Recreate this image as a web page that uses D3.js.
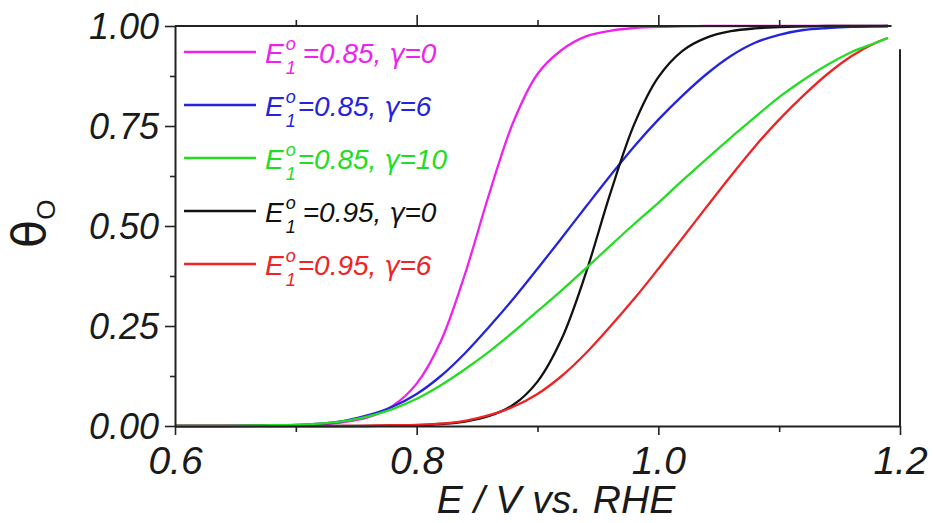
<!DOCTYPE html>
<html>
<head>
<meta charset="utf-8">
<script src="https://cdn.jsdelivr.net/npm/d3@7"></script>
<style>
  html, body { margin: 0; padding: 0; background: #fff; }
  svg { display: block; }
  text { font-family: "Liberation Sans", Arial, sans-serif; }
</style>
</head>
<body>
<svg id="chart" width="933" height="523"></svg>
<script>
// ---- data ----
const potentials = [0.60,0.62,0.64,0.66,0.68,0.70,0.72,0.74,0.76,0.78,0.80,0.82,0.84,0.86,0.88,0.90,0.92,0.94,0.96,0.98,1.00,1.02,1.04,1.06,1.08,1.10,1.12,1.14,1.16,1.18,1.19];

const thetaE085g0  = [0.000,0.000,0.000,0.000,0.001,0.002,0.004,0.010,0.022,0.050,0.106,0.212,0.380,0.580,0.760,0.880,0.940,0.974,0.988,0.995,0.998,0.999,1.000,1.000,1.000,1.000,1.000,1.000,1.000,1.000,1.000];
const thetaE085g6  = [0.000,0.000,0.000,0.001,0.002,0.003,0.006,0.013,0.027,0.048,0.080,0.125,0.182,0.248,0.318,0.393,0.470,0.548,0.625,0.699,0.766,0.826,0.880,0.925,0.958,0.978,0.990,0.995,0.998,0.999,1.000];
const thetaE085g10 = [0.000,0.000,0.000,0.001,0.002,0.003,0.006,0.012,0.024,0.042,0.068,0.102,0.142,0.186,0.235,0.287,0.339,0.394,0.450,0.505,0.558,0.614,0.668,0.721,0.772,0.822,0.865,0.903,0.935,0.958,0.970];
const thetaE095g0  = [0.000,0.000,0.000,0.000,0.000,0.000,0.000,0.000,0.000,0.001,0.002,0.005,0.011,0.025,0.053,0.111,0.218,0.382,0.579,0.754,0.872,0.938,0.971,0.987,0.994,0.997,0.999,1.000,1.000,1.000,1.000];
const thetaE095g6  = [0.000,0.000,0.000,0.000,0.000,0.000,0.000,0.000,0.001,0.002,0.003,0.006,0.013,0.027,0.048,0.080,0.125,0.182,0.248,0.318,0.393,0.470,0.548,0.625,0.699,0.766,0.826,0.880,0.925,0.958,0.970];

const seriesE0     = ["0.85", "0.85", "0.85", "0.95", "0.95"];
const seriesGamma  = ["0", "6", "10", "0", "6"];
const seriesColors = ["#ee22ee", "#2424dc", "#22dd22", "#111111", "#ee2424"];
const seriesValues = [thetaE085g0, thetaE085g6, thetaE085g10, thetaE095g0, thetaE095g6];
const drawOrder    = [0, 1, 3, 4, 2];

const xTicksMajor = [0.6, 0.8, 1.0, 1.2];
const xTicksMinor = [0.7, 0.9, 1.1];
const yTicksMajor = [0, 0.25, 0.5, 0.75, 1.0];
const yTicksMinor = [0.125, 0.375, 0.625, 0.875];

// ---- layout ----
const svg = d3.select("#chart");
const x = d3.scaleLinear().domain([0.6, 1.2]).range([175, 900]);
const y = d3.scaleLinear().domain([0, 1]).range([426, 26]);

const axisColor = "#222";
const g = svg.append("g");

// curves
const line = d3.line()
  .x((d, i) => x(potentials[i]))
  .y(d => y(d))
  .curve(d3.curveCatmullRom.alpha(0.5));

drawOrder.forEach(k => {
  g.append("path")
    .datum(seriesValues[k])
    .attr("d", line)
    .attr("fill", "none")
    .attr("stroke", seriesColors[k])
    .attr("stroke-width", 2.3)
    .attr("stroke-linejoin", "round");
});

// frame: top line (stops just short of the right), right line (starts a bit lower)
g.append("line").attr("x1", x(0.6)).attr("x2", x(1.193)).attr("y1", y(1)).attr("y2", y(1))
  .attr("stroke", axisColor).attr("stroke-width", 2);
g.append("line").attr("x1", x(1.2)).attr("x2", x(1.2)).attr("y1", y(0.942)).attr("y2", y(0))
  .attr("stroke", axisColor).attr("stroke-width", 2);

// bottom axis
const xAxisB = d3.axisBottom(x).tickValues(xTicksMajor).tickSize(9).tickSizeOuter(0)
  .tickFormat(d3.format(".1f"));
const gxb = svg.append("g").attr("transform", `translate(0,${y(0)})`).call(xAxisB);
gxb.selectAll(".tick line").attr("stroke", axisColor).attr("stroke-width", 1.6);
gxb.select(".domain").attr("stroke", axisColor).attr("stroke-width", 2);
gxb.selectAll(".tick text")
  .attr("font-size", 39).attr("font-style", "italic").attr("fill", "#1a1a1a")
  .attr("dy", null).attr("y", 48);
svg.append("g").attr("transform", `translate(0,${y(0)})`)
  .call(d3.axisBottom(x).tickValues(xTicksMinor).tickSize(6).tickFormat(""))
  .call(s => s.select(".domain").remove())
  .selectAll(".tick line").attr("stroke", axisColor).attr("stroke-width", 1.6);

// top axis ticks (outward)
svg.append("g").attr("transform", `translate(0,${y(1)})`)
  .call(d3.axisTop(x).tickValues([0.8, 1.0]).tickSize(11).tickFormat(""))
  .call(s => s.select(".domain").remove())
  .selectAll(".tick line").attr("stroke", axisColor).attr("stroke-width", 1.6);
svg.append("g").attr("transform", `translate(0,${y(1)})`)
  .call(d3.axisTop(x).tickValues(xTicksMinor).tickSize(6).tickFormat(""))
  .call(s => s.select(".domain").remove())
  .selectAll(".tick line").attr("stroke", axisColor).attr("stroke-width", 1.6);

// left axis
const yAxis = d3.axisLeft(y).tickValues(yTicksMajor).tickSize(10).tickSizeOuter(0)
  .tickFormat(d3.format(".2f"));
const gy = svg.append("g").attr("transform", `translate(${x(0.6)},0)`).call(yAxis);
gy.select(".domain").attr("stroke", axisColor).attr("stroke-width", 2);
gy.selectAll(".tick line").attr("stroke", axisColor).attr("stroke-width", 1.6);
gy.selectAll(".tick text")
  .attr("font-size", 36).attr("font-style", "italic").attr("fill", "#1a1a1a")
  .attr("x", -16).attr("dy", "0.36em");
svg.append("g").attr("transform", `translate(${x(0.6)},0)`)
  .call(d3.axisLeft(y).tickValues(yTicksMinor).tickSize(5).tickFormat(""))
  .call(s => s.select(".domain").remove())
  .selectAll(".tick line").attr("stroke", axisColor).attr("stroke-width", 1.6);

// axis titles
svg.append("text")
  .attr("x", 556).attr("y", 513)
  .attr("text-anchor", "middle")
  .attr("font-size", 39).attr("font-style", "italic").attr("fill", "#1a1a1a")
  .text("E / V vs. RHE");

const yl = svg.append("text")
  .attr("transform", "translate(45,248) rotate(-90)")
  .attr("fill", "#1a1a1a");
yl.append("tspan").attr("font-size", 46).attr("font-family", "DejaVu Sans").text("θ");
yl.append("tspan").attr("font-size", 26).attr("dy", 10).text("O");

// legend
const legendY0 = 52, legendStep = 53;
const legendGap = [7, 2, 2, 7, 2];
seriesE0.forEach((e0, i) => {
  const ly = legendY0 + i * legendStep;
  svg.append("line")
    .attr("x1", 184).attr("x2", 256).attr("y1", ly).attr("y2", ly)
    .attr("stroke", seriesColors[i]).attr("stroke-width", 2.3);
  const t = svg.append("text")
    .attr("x", 265).attr("y", ly + 11)
    .attr("font-size", 28).attr("font-style", "italic")
    .attr("fill", seriesColors[i]);
  t.append("tspan").text("E");
  t.append("tspan").attr("font-size", 18).attr("dx", 2).attr("dy", -13).text("o");
  t.append("tspan").attr("font-size", 18).attr("dx", -10).attr("dy", 24).text("1");
  t.append("tspan").attr("dx", legendGap[i]).attr("dy", -11).text(`=${e0}, `);
  t.append("tspan").attr("font-family", "DejaVu Sans").attr("font-size", 26).text("γ");
  t.append("tspan").text(`=${seriesGamma[i]}`);
});
</script>
</body>
</html>
